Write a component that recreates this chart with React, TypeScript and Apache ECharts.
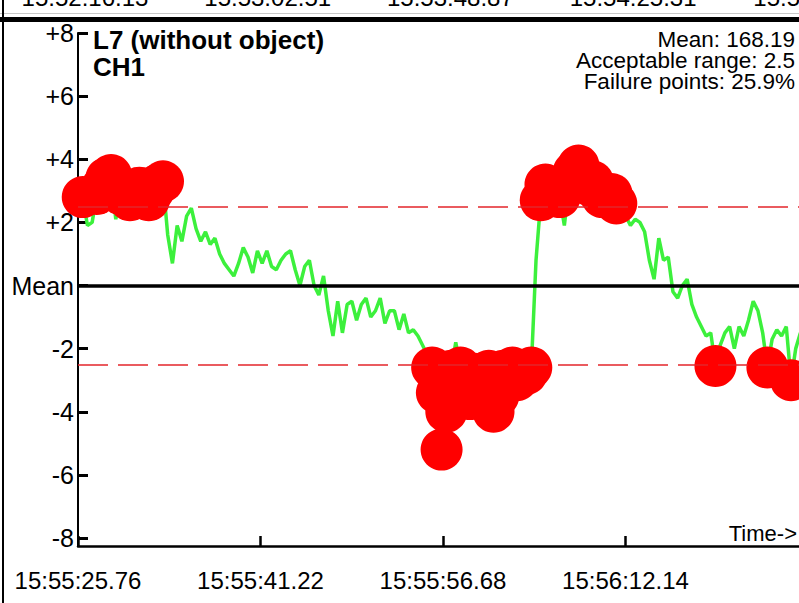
import React, { useEffect, useRef } from 'react';
import * as echarts from 'echarts';

const ACCEPTABLE_RANGE = 2.5;
const SAMPLE_STEP = 0.4; // seconds between samples
const X_INTERVAL = 15.46; // seconds between x ticks
const xTickLabels = ['15:55:25.76', '15:55:41.22', '15:55:56.68', '15:56:12.14'];
const prevPanelLabels = ['15:52:16.13', '15:53:02.51', '15:53:48.87', '15:54:25.31', '15:55:11.69'];
const titleLines = ['L7 (without object)', 'CH1'];
const infoLines = ['Mean: 168.19', 'Acceptable range: 2.5', 'Failure points: 25.9%'];

// deviation from mean, one value per SAMPLE_STEP
const signalValues = [
  2.4, 2.8, 1.9, 2.0, 2.9, 3.1, 3.4, 3.5, 2.1, 2.9,
  3.0, 2.7, 3.0, 3.1, 2.8, 2.7, 3.0, 3.2, 3.3, 1.6,
  0.7, 1.9, 1.4, 2.2, 2.45, 1.8, 1.4, 1.7, 1.3, 1.5,
  1.0, 0.7, 0.5, 0.3, 0.7, 1.2, 0.9, 0.4, 1.1, 0.7,
  1.1, 0.6, 0.5, 0.8, 1.0, 1.1, 0.5, 0.0, 0.6, 0.8,
  0.0, -0.3, 0.3, -0.8, -1.6, -0.5, -1.5, -0.6, -0.5, -1.1,
  -0.6, -0.4, -1.0, -0.8, -0.4, -1.2, -0.8, -0.8, -1.4, -0.9,
  -1.5, -1.4, -1.6, -1.9, -2.2, -2.6, -3.4, -5.2, -4.0, -2.7,
  -1.8, -2.6, -3.3, -3.6, -2.8, -3.0, -3.2, -2.7, -4.0, -3.5,
  -2.7, -2.9, -2.6, -3.0, -2.7, -2.8, -2.6, 0.8, 2.7, 3.2,
  3.0, 3.1, 2.8, 1.9, 3.2, 3.6, 3.8, 3.4, 3.2, 3.3,
  3.0, 2.8, 2.9, 2.9, 2.6, 2.1, 2.2, 1.9, 2.1, 2.0,
  1.7, 0.8, 0.2, 1.5, 0.8, 0.9, -0.2, -0.4, 0.0, 0.2,
  -0.6, -1.0, -1.3, -1.6, -1.5, -2.55, -1.9, -1.5, -1.3, -2.0,
  -1.3, -1.6, -1.1, -0.5, -0.8, -1.5, -2.6, -1.7, -1.4, -1.6,
  -1.3, -3.0, -2.0, -1.5,
];

const FONT = '"Liberation Sans", Arial, Helvetica, sans-serif';

export default function App() {
  const ref = useRef<HTMLDivElement>(null);

  useEffect(() => {
    if (!ref.current) return;
    const chart = echarts.init(ref.current, undefined, { renderer: 'svg' });

    const lineData = signalValues.map((v, i) => [i * SAMPLE_STEP, v]);
    const failData = lineData.filter(([, v]) => Math.abs(v) >= ACCEPTABLE_RANGE);

    const graphic: any[] = [];
    prevPanelLabels.forEach((t, i) => {
      graphic.push({
        type: 'text',
        x: 85 + i * 182.7,
        y: 9,
        silent: true,
        style: {
          text: t, fill: '#000', font: `24px ${FONT}`,
          textAlign: 'center', align: 'center',
          textVerticalAlign: 'bottom', verticalAlign: 'bottom',
        },
      });
    });
    graphic.push(
      { type: 'line', shape: { x1: 0, y1: 13.5, x2: 812, y2: 13.5 }, style: { stroke: '#c8c8c8', lineWidth: 1 } },
      { type: 'rect', shape: { x: 0, y: 17, width: 812, height: 5 }, style: { fill: '#000' } },
      { type: 'line', shape: { x1: 3, y1: 0, x2: 3, y2: 603 }, style: { stroke: '#000', lineWidth: 2 } },
      // y axis continues down to the offset x axis
      { type: 'line', shape: { x1: 78, y1: 537, x2: 78, y2: 547 }, style: { stroke: '#000', lineWidth: 2 } },
    );
    graphic.push({
      type: 'text', x: 93, y: 26.5,
      style: {
        text: titleLines.join('\n'), fill: '#000', font: `bold 26px ${FONT}`, lineHeight: 27,
        textAlign: 'left', align: 'left',
        textVerticalAlign: 'top', verticalAlign: 'top',
      },
    });
    graphic.push({
      type: 'text', x: 795, y: 29,
      style: {
        text: infoLines.join('\n'), fill: '#000', font: `22.5px ${FONT}`, lineHeight: 21,
        textAlign: 'right', align: 'right',
        textVerticalAlign: 'top', verticalAlign: 'top',
      },
    });
    graphic.push({
      type: 'text', x: 797, y: 533,
      style: {
        text: 'Time->', fill: '#000', font: `22px ${FONT}`,
        textAlign: 'right', align: 'right',
        textVerticalAlign: 'middle', verticalAlign: 'middle',
      },
    });

    chart.setOption({
      animation: false,
      backgroundColor: '#fff',
      textStyle: { fontFamily: FONT },
      grid: { left: 78, top: 33, height: 505, width: 730 },
      xAxis: {
        type: 'value',
        min: 0,
        max: X_INTERVAL * 4,
        interval: X_INTERVAL,
        offset: 8,
        axisLine: { show: true, onZero: false, lineStyle: { color: '#000', width: 2.5 } },
        axisTick: { show: true, inside: true, length: 10, lineStyle: { color: '#000', width: 2.5 } },
        axisLabel: {
          fontSize: 24, color: '#000', margin: 22, fontFamily: FONT,
          formatter: (v: number) => xTickLabels[Math.round(v / X_INTERVAL)] ?? '',
        },
        splitLine: { show: false },
      },
      yAxis: {
        type: 'value',
        min: -8,
        max: 8,
        interval: 2,
        axisLine: { show: true, onZero: false, lineStyle: { color: '#000', width: 2 } },
        axisTick: { show: true, inside: true, length: 10, lineStyle: { color: '#000', width: 3 } },
        axisLabel: {
          fontSize: 25, color: '#000', margin: 4, fontFamily: FONT,
          formatter: (v: number) => (v > 0 ? `+${v}` : v === 0 ? 'Mean' : `${v}`),
        },
        splitLine: { show: false },
      },
      series: [
        {
          type: 'line',
          name: 'signal',
          data: lineData,
          showSymbol: false,
          symbol: 'none',
          lineStyle: { color: '#3cf03c', width: 3.5 },
          z: 2,
          markLine: {
            silent: true,
            symbol: 'none',
            label: { show: false },
            data: [
              { yAxis: 0, lineStyle: { color: '#000', width: 3.5, type: 'solid' } },
              { yAxis: ACCEPTABLE_RANGE, lineStyle: { color: '#e3262b', width: 1.5, type: [30, 10] } },
              { yAxis: -ACCEPTABLE_RANGE, lineStyle: { color: '#e3262b', width: 1.5, type: [30, 10] } },
            ],
          },
        },
        {
          type: 'scatter',
          name: 'failures',
          data: failData,
          symbol: 'circle',
          symbolSize: 42,
          itemStyle: { color: '#ff0000', opacity: 1 },
          z: 3,
        },
      ],
      graphic,
    });

    return () => chart.dispose();
  }, []);

  return (
    <div style={{ position: 'absolute', left: 0, top: 0, width: 799, height: 603, overflow: 'hidden' }}>
      <div ref={ref} style={{ width: 812, height: 603 }} />
    </div>
  );
}
